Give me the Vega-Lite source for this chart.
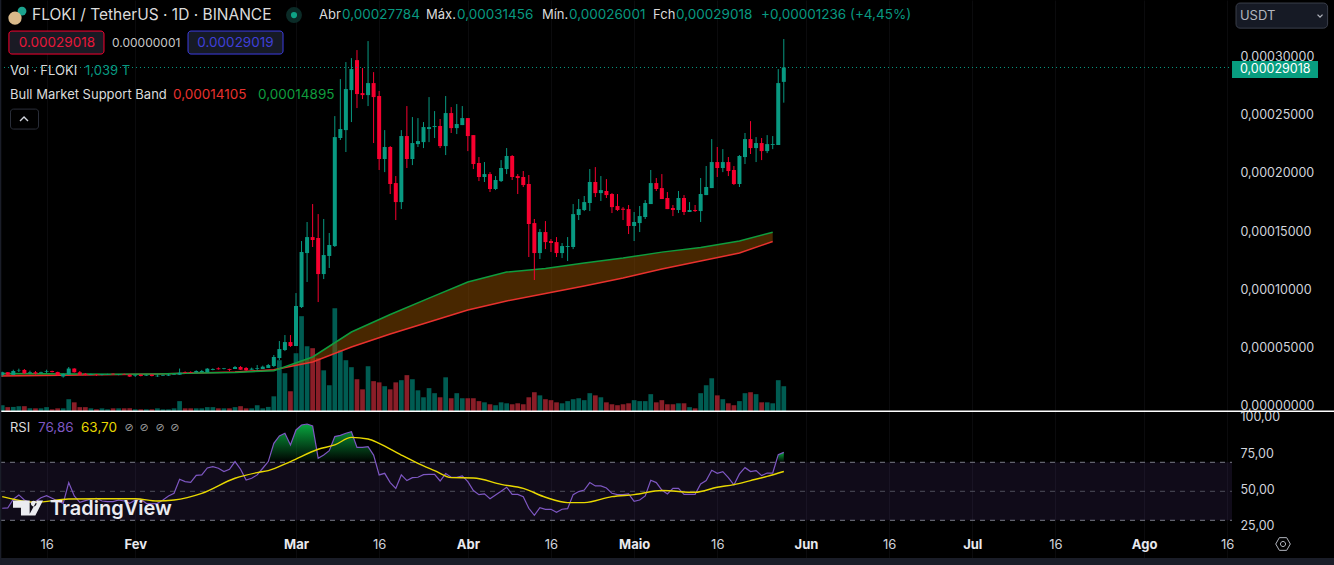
{"$schema":"https://vega.github.io/schema/vega-lite/v6.json","width":1334,"height":565,"padding":0,"autosize":{"type":"none"},"background":"#000000","config":{"view":{"stroke":null},"font":"Inter"},
"datasets":{
"candles":[
{"date":"2024-01-08","open":26.6,"high":29.4,"low":25,"close":28.9,"volume":0.25,"rsi":38.3},
{"date":"2024-01-09","open":28.9,"high":29.1,"low":26.6,"close":26.8,"volume":0.17,"rsi":38.5},
{"date":"2024-01-10","open":26.6,"high":31.1,"low":26.6,"close":30,"volume":0.18,"rsi":44.5},
{"date":"2024-01-11","open":30,"high":32,"low":29.1,"close":30.3,"volume":0.21,"rsi":47.5},
{"date":"2024-01-12","open":30.9,"high":31.7,"low":27.4,"close":28,"volume":0.21,"rsi":44},
{"date":"2024-01-13","open":28.3,"high":30.3,"low":27.2,"close":28.9,"volume":0.12,"rsi":42.4},
{"date":"2024-01-14","open":28.9,"high":30,"low":27,"close":27.7,"volume":0.12,"rsi":42.9},
{"date":"2024-01-15","open":28.3,"high":29.4,"low":27.7,"close":28.9,"volume":0.12,"rsi":45.6},
{"date":"2024-01-16","open":29.4,"high":31.1,"low":28.3,"close":30,"volume":0.17,"rsi":47},
{"date":"2024-01-17","open":30,"high":30.3,"low":28.8,"close":29.1,"volume":0.08,"rsi":45.2},
{"date":"2024-01-18","open":29.1,"high":29.4,"low":26.2,"close":26.6,"volume":0.12,"rsi":43.3},
{"date":"2024-01-19","open":25.2,"high":28,"low":24.3,"close":27.4,"volume":0.12,"rsi":41.7},
{"date":"2024-01-20","open":27,"high":33.4,"low":26.6,"close":32.1,"volume":0.5,"rsi":56},
{"date":"2024-01-21","open":32.1,"high":32.4,"low":28.6,"close":28.9,"volume":0.37,"rsi":46.8},
{"date":"2024-01-22","open":28.9,"high":30,"low":26.6,"close":26.8,"volume":0.17,"rsi":42.4},
{"date":"2024-01-23","open":27.7,"high":28.3,"low":26.2,"close":26.6,"volume":0.17,"rsi":43.6},
{"date":"2024-01-24","open":26.9,"high":27.7,"low":26.6,"close":27.4,"volume":0.12,"rsi":44.7},
{"date":"2024-01-25","open":27.1,"high":27.4,"low":25.7,"close":26.6,"volume":0.08,"rsi":45.2},
{"date":"2024-01-26","open":26.6,"high":27.4,"low":26.2,"close":27.1,"volume":0.12,"rsi":43.3},
{"date":"2024-01-27","open":27,"high":27.6,"low":26.8,"close":27.4,"volume":0.08,"rsi":42.9},
{"date":"2024-01-28","open":27.7,"high":28,"low":26.8,"close":27.1,"volume":0.12,"rsi":42.9},
{"date":"2024-01-29","open":26.6,"high":27.1,"low":26.3,"close":26.9,"volume":0.12,"rsi":44},
{"date":"2024-01-30","open":27.4,"high":27.7,"low":26.6,"close":26.9,"volume":0.12,"rsi":43.3},
{"date":"2024-01-31","open":26.9,"high":27.1,"low":24.9,"close":25.2,"volume":0.12,"rsi":41.7},
{"date":"2024-02-01","open":26,"high":27.1,"low":24.9,"close":26.6,"volume":0.08,"rsi":44},
{"date":"2024-02-02","open":26.9,"high":27,"low":25.4,"close":25.7,"volume":0.08,"rsi":44.5},
{"date":"2024-02-03","open":26,"high":26.9,"low":25.7,"close":26.6,"volume":0.08,"rsi":41.7},
{"date":"2024-02-04","open":26.9,"high":27,"low":25.4,"close":25.7,"volume":0.08,"rsi":41.3},
{"date":"2024-02-05","open":25.4,"high":27.1,"low":24.9,"close":26,"volume":0.12,"rsi":41.7},
{"date":"2024-02-06","open":26,"high":26.9,"low":25.7,"close":26.6,"volume":0.08,"rsi":44},
{"date":"2024-02-07","open":26,"high":27.4,"low":25.7,"close":26.9,"volume":0.08,"rsi":46.8},
{"date":"2024-02-08","open":26.9,"high":27.7,"low":26.6,"close":27.4,"volume":0.12,"rsi":48.6},
{"date":"2024-02-09","open":26.8,"high":32.1,"low":26.6,"close":28.5,"volume":0.42,"rsi":58.3},
{"date":"2024-02-10","open":28.9,"high":29.7,"low":28,"close":28.3,"volume":0.12,"rsi":56.7},
{"date":"2024-02-11","open":29.1,"high":29.7,"low":28.3,"close":28.5,"volume":0.12,"rsi":56.2},
{"date":"2024-02-12","open":28.9,"high":30.6,"low":28.6,"close":30,"volume":0.12,"rsi":61},
{"date":"2024-02-13","open":29.1,"high":30.9,"low":28.9,"close":30,"volume":0.12,"rsi":61.3},
{"date":"2024-02-14","open":28.9,"high":32.5,"low":28.9,"close":32,"volume":0.17,"rsi":66.1},
{"date":"2024-02-15","open":30.9,"high":32.3,"low":30.6,"close":31.7,"volume":0.17,"rsi":67},
{"date":"2024-02-16","open":32.3,"high":33.1,"low":31.1,"close":31.5,"volume":0.12,"rsi":65.9},
{"date":"2024-02-17","open":31.7,"high":32.6,"low":31.4,"close":32.3,"volume":0.12,"rsi":63.6},
{"date":"2024-02-18","open":31.7,"high":32,"low":29.9,"close":30.9,"volume":0.12,"rsi":65.2},
{"date":"2024-02-19","open":31.7,"high":34.3,"low":31.7,"close":33.4,"volume":0.17,"rsi":70.5},
{"date":"2024-02-20","open":33.4,"high":34.3,"low":30.9,"close":31.1,"volume":0.21,"rsi":65.2},
{"date":"2024-02-21","open":32.6,"high":33.4,"low":30,"close":30.6,"volume":0.12,"rsi":57.8},
{"date":"2024-02-22","open":31.1,"high":32.9,"low":30.9,"close":32,"volume":0.12,"rsi":59},
{"date":"2024-02-23","open":31.7,"high":35.1,"low":30.6,"close":32.3,"volume":0.25,"rsi":61.3},
{"date":"2024-02-24","open":31.7,"high":34.6,"low":31.7,"close":33.7,"volume":0.12,"rsi":65.9},
{"date":"2024-02-25","open":32.6,"high":36,"low":32.6,"close":35.1,"volume":0.18,"rsi":70.5},
{"date":"2024-02-26","open":34.3,"high":43.7,"low":33.4,"close":42,"volume":0.62,"rsi":83.1},
{"date":"2024-02-27","open":41.1,"high":55.7,"low":39.4,"close":48.8,"volume":2.12,"rsi":88.2},
{"date":"2024-02-28","open":48,"high":60.8,"low":47.1,"close":54.8,"volume":1.58,"rsi":90},
{"date":"2024-02-29","open":54.8,"high":60.8,"low":50.6,"close":51.4,"volume":0.83,"rsi":82},
{"date":"2024-03-01","open":51.4,"high":96.8,"low":51.4,"close":85.7,"volume":2.41,"rsi":92.3},
{"date":"2024-03-02","open":84.8,"high":141.4,"low":84,"close":132,"volume":3.95,"rsi":95.7},
{"date":"2024-03-03","open":131.1,"high":157.7,"low":106.3,"close":144.8,"volume":2.7,"rsi":96.4},
{"date":"2024-03-04","open":144.8,"high":173.1,"low":136.3,"close":142.3,"volume":2.62,"rsi":95},
{"date":"2024-03-05","open":144,"high":164.5,"low":89.1,"close":113.1,"volume":2.2,"rsi":72.8},
{"date":"2024-03-06","open":113.1,"high":160.3,"low":108.8,"close":129.4,"volume":1.7,"rsi":75},
{"date":"2024-03-07","open":128.6,"high":148.3,"low":118.3,"close":138,"volume":1.08,"rsi":78},
{"date":"2024-03-08","open":137.1,"high":248.5,"low":136.3,"close":230.5,"volume":4.28,"rsi":87.7},
{"date":"2024-03-09","open":229.7,"high":280.2,"low":228,"close":237.4,"volume":2.54,"rsi":88.6},
{"date":"2024-03-10","open":236.5,"high":294.8,"low":217.7,"close":271.7,"volume":2.12,"rsi":90},
{"date":"2024-03-11","open":270.8,"high":298.2,"low":243.4,"close":288.8,"volume":1.83,"rsi":91.1},
{"date":"2024-03-12","open":296.5,"high":305.1,"low":255.4,"close":267.4,"volume":1.33,"rsi":80.3},
{"date":"2024-03-13","open":268.2,"high":289.7,"low":263.1,"close":266.5,"volume":0.91,"rsi":80.3},
{"date":"2024-03-14","open":266.5,"high":312.8,"low":257.1,"close":276.8,"volume":1.87,"rsi":80.8},
{"date":"2024-03-15","open":276.8,"high":286.2,"low":225.4,"close":264.8,"volume":1.25,"rsi":75},
{"date":"2024-03-16","open":265.7,"high":270,"low":202.3,"close":211.7,"volume":1.2,"rsi":61.3},
{"date":"2024-03-17","open":211.7,"high":236.5,"low":200.5,"close":222,"volume":1.04,"rsi":62.4},
{"date":"2024-03-18","open":222,"high":222.8,"low":181.7,"close":190.3,"volume":0.91,"rsi":56},
{"date":"2024-03-19","open":191.1,"high":197.1,"low":159.4,"close":174.8,"volume":1.2,"rsi":52},
{"date":"2024-03-20","open":174.8,"high":236.5,"low":168.8,"close":231.4,"volume":1.29,"rsi":61.3},
{"date":"2024-03-21","open":231.4,"high":257.1,"low":204,"close":211.7,"volume":1.5,"rsi":57.4},
{"date":"2024-03-22","open":211.7,"high":247.7,"low":206.5,"close":225.4,"volume":1.33,"rsi":59.4},
{"date":"2024-03-23","open":224.5,"high":246.8,"low":222,"close":227.1,"volume":0.87,"rsi":59.7},
{"date":"2024-03-24","open":226.2,"high":243.4,"low":221.1,"close":239.1,"volume":0.58,"rsi":61.5},
{"date":"2024-03-25","open":237.4,"high":264.8,"low":226.2,"close":239.1,"volume":0.96,"rsi":61.7},
{"date":"2024-03-26","open":239.1,"high":252.8,"low":229.7,"close":240,"volume":0.75,"rsi":61.7},
{"date":"2024-03-27","open":240,"high":246,"low":221.1,"close":222.8,"volume":0.58,"rsi":57.1},
{"date":"2024-03-28","open":222.8,"high":265.7,"low":215.1,"close":251.1,"volume":1.41,"rsi":62.2},
{"date":"2024-03-29","open":251.1,"high":256.2,"low":234,"close":238.2,"volume":0.54,"rsi":59.7},
{"date":"2024-03-30","open":238.2,"high":258.8,"low":233.1,"close":241.7,"volume":0.75,"rsi":59.7},
{"date":"2024-03-31","open":240.8,"high":257.1,"low":240.8,"close":246.8,"volume":0.54,"rsi":60.6},
{"date":"2024-04-01","open":246.8,"high":246.8,"low":218.5,"close":231.4,"volume":0.54,"rsi":56.7},
{"date":"2024-04-02","open":232.2,"high":232.2,"low":203.1,"close":207.4,"volume":0.54,"rsi":50.5},
{"date":"2024-04-03","open":208.3,"high":213.4,"low":192.8,"close":196.3,"volume":0.42,"rsi":47.7},
{"date":"2024-04-04","open":196.3,"high":209.1,"low":192,"close":198.8,"volume":0.37,"rsi":48.2},
{"date":"2024-04-05","open":198.8,"high":200.5,"low":183.4,"close":186,"volume":0.29,"rsi":44.9},
{"date":"2024-04-06","open":186,"high":197.1,"low":185.1,"close":193.7,"volume":0.25,"rsi":47.5},
{"date":"2024-04-07","open":192.8,"high":210.8,"low":192,"close":204,"volume":0.37,"rsi":50},
{"date":"2024-04-08","open":203.1,"high":221.1,"low":198.8,"close":214.3,"volume":0.33,"rsi":52.8},
{"date":"2024-04-09","open":214.3,"high":215.1,"low":193.7,"close":196.3,"volume":0.29,"rsi":47.9},
{"date":"2024-04-10","open":197.1,"high":198.8,"low":181.7,"close":195.4,"volume":0.33,"rsi":47.9},
{"date":"2024-04-11","open":196.3,"high":201.4,"low":187.7,"close":189.4,"volume":0.29,"rsi":46.3},
{"date":"2024-04-12","open":190.3,"high":198,"low":127.7,"close":156,"volume":0.58,"rsi":38.3},
{"date":"2024-04-13","open":156.8,"high":160.3,"low":108,"close":131.1,"volume":0.79,"rsi":33.4},
{"date":"2024-04-14","open":131.1,"high":151.7,"low":126,"close":149.1,"volume":0.66,"rsi":38.7},
{"date":"2024-04-15","open":149.1,"high":158.5,"low":134.5,"close":140.5,"volume":0.5,"rsi":37.6},
{"date":"2024-04-16","open":141.4,"high":143.1,"low":132,"close":139.7,"volume":0.46,"rsi":37.6},
{"date":"2024-04-17","open":140.5,"high":144.8,"low":127.7,"close":131.1,"volume":0.37,"rsi":35.5},
{"date":"2024-04-18","open":131.1,"high":139.7,"low":126.8,"close":137.1,"volume":0.33,"rsi":37.6},
{"date":"2024-04-19","open":136.3,"high":144.8,"low":124.3,"close":137.1,"volume":0.42,"rsi":38},
{"date":"2024-04-20","open":136.3,"high":173.1,"low":134.5,"close":164.5,"volume":0.5,"rsi":47.7},
{"date":"2024-04-21","open":163.7,"high":177.4,"low":159.4,"close":168.8,"volume":0.54,"rsi":49.8},
{"date":"2024-04-22","open":168,"high":180,"low":167.1,"close":174.8,"volume":0.46,"rsi":50.9},
{"date":"2024-04-23","open":174,"high":203.1,"low":167.1,"close":192,"volume":0.75,"rsi":56},
{"date":"2024-04-24","open":192,"high":204.8,"low":179.1,"close":182.5,"volume":0.66,"rsi":53.7},
{"date":"2024-04-25","open":182.5,"high":197.1,"low":175.7,"close":185.1,"volume":0.58,"rsi":53.7},
{"date":"2024-04-26","open":184.3,"high":194.5,"low":178.3,"close":180.8,"volume":0.37,"rsi":52.3},
{"date":"2024-04-27","open":181.7,"high":182.5,"low":165.4,"close":170.5,"volume":0.29,"rsi":48.6},
{"date":"2024-04-28","open":171.4,"high":181.7,"low":167.1,"close":168,"volume":0.25,"rsi":47.7},
{"date":"2024-04-29","open":169.1,"high":170.5,"low":159.4,"close":168.2,"volume":0.29,"rsi":47.7},
{"date":"2024-04-30","open":168.8,"high":172.3,"low":147.4,"close":154.3,"volume":0.33,"rsi":48.2},
{"date":"2024-05-01","open":154.3,"high":166.3,"low":141.4,"close":157.7,"volume":0.46,"rsi":43.1},
{"date":"2024-05-02","open":156.8,"high":171.4,"low":149.1,"close":162.8,"volume":0.42,"rsi":44},
{"date":"2024-05-03","open":162,"high":176.5,"low":160.3,"close":174,"volume":0.42,"rsi":46.8},
{"date":"2024-05-04","open":173.1,"high":202.3,"low":173.1,"close":191.1,"volume":0.71,"rsi":57.6},
{"date":"2024-05-05","open":191.1,"high":195.4,"low":184.3,"close":186,"volume":0.37,"rsi":56},
{"date":"2024-05-06","open":186.8,"high":198.8,"low":177.4,"close":177.4,"volume":0.46,"rsi":50.9},
{"date":"2024-05-07","open":178.3,"high":183.4,"low":168.8,"close":168.8,"volume":0.29,"rsi":48.2},
{"date":"2024-05-08","open":169.7,"high":172.3,"low":162.8,"close":168,"volume":0.29,"rsi":52.1},
{"date":"2024-05-09","open":168,"high":184.3,"low":165.4,"close":178.3,"volume":0.33,"rsi":52},
{"date":"2024-05-10","open":178.3,"high":180.8,"low":163.7,"close":166.3,"volume":0.33,"rsi":47.9},
{"date":"2024-05-11","open":166.3,"high":174.8,"low":166.3,"close":168,"volume":0.17,"rsi":47.9},
{"date":"2024-05-12","open":168,"high":172.3,"low":166.3,"close":167.1,"volume":0.12,"rsi":47.9},
{"date":"2024-05-13","open":167.1,"high":195.4,"low":157.7,"close":181.7,"volume":0.75,"rsi":55},
{"date":"2024-05-14","open":180.8,"high":205.7,"low":180.8,"close":187.7,"volume":1.08,"rsi":57.4},
{"date":"2024-05-15","open":186.8,"high":228.8,"low":186.8,"close":209.1,"volume":1.37,"rsi":64.5},
{"date":"2024-05-16","open":209.1,"high":222,"low":196.3,"close":204,"volume":0.66,"rsi":62.4},
{"date":"2024-05-17","open":204,"high":220.2,"low":200.5,"close":209.1,"volume":0.5,"rsi":63.6},
{"date":"2024-05-18","open":209.1,"high":213.4,"low":197.1,"close":201.4,"volume":0.33,"rsi":59.4},
{"date":"2024-05-19","open":202.3,"high":205.7,"low":189.4,"close":190.3,"volume":0.25,"rsi":54.4},
{"date":"2024-05-20","open":190.3,"high":215.1,"low":187.7,"close":214.3,"volume":0.42,"rsi":62},
{"date":"2024-05-21","open":213.4,"high":234,"low":207.4,"close":228.8,"volume":0.75,"rsi":66.3},
{"date":"2024-05-22","open":228.8,"high":244.2,"low":216,"close":221.1,"volume":0.79,"rsi":63.6},
{"date":"2024-05-23","open":221.1,"high":230.5,"low":209.1,"close":225.4,"volume":0.71,"rsi":64.3},
{"date":"2024-05-24","open":225.4,"high":229.7,"low":210.8,"close":218.5,"volume":0.37,"rsi":60.8},
{"date":"2024-05-25","open":218.5,"high":232.2,"low":216.8,"close":224.5,"volume":0.37,"rsi":62.6},
{"date":"2024-05-26","open":223.7,"high":231.4,"low":220.2,"close":224.5,"volume":0.33,"rsi":62.6},
{"date":"2024-05-27","open":223.7,"high":288.8,"low":223.7,"close":276.8,"volume":1.29,"rsi":75.3},
{"date":"2024-05-28","open":277.84,"high":314.56,"low":260.01,"close":290.18,"volume":1.039,"rsi":76.86}
],
"band":[
{"date":"2024-01-07","upper":27.9,"lower":25.6},
{"date":"2024-01-15","upper":27.7,"lower":26.1},
{"date":"2024-01-22","upper":27.4,"lower":26.6},
{"date":"2024-01-29","upper":27.2,"lower":27},
{"date":"2024-02-05","upper":27.4,"lower":27.4},
{"date":"2024-02-12","upper":28.3,"lower":28.3},
{"date":"2024-02-19","upper":28.7,"lower":29.1},
{"date":"2024-02-26","upper":30.3,"lower":31.1},
{"date":"2024-03-04","upper":42,"lower":37.7},
{"date":"2024-03-11","upper":63.4,"lower":50.6},
{"date":"2024-03-18","upper":78.4,"lower":61.7},
{"date":"2024-03-25","upper":92.5,"lower":72},
{"date":"2024-04-01","upper":106.3,"lower":82.3},
{"date":"2024-04-08","upper":114.8,"lower":90},
{"date":"2024-04-15","upper":117.8,"lower":96.4},
{"date":"2024-04-22","upper":122.5,"lower":102.8},
{"date":"2024-04-29","upper":126.8,"lower":109.7},
{"date":"2024-05-06","upper":131.9,"lower":117.4},
{"date":"2024-05-13","upper":135.8,"lower":124.3},
{"date":"2024-05-20","upper":141.4,"lower":131.1},
{"date":"2024-05-26","upper":148.95,"lower":141.05}
],
"rsiMa":[
{"date":"2024-01-08","ma":46.3},{"date":"2024-01-14","ma":42.4},{"date":"2024-01-20","ma":44.7},{"date":"2024-01-26","ma":44.9},{"date":"2024-02-01","ma":44.9},{"date":"2024-02-05","ma":43.3},{"date":"2024-02-08","ma":44},{"date":"2024-02-13","ma":48.6},{"date":"2024-02-19","ma":59},{"date":"2024-02-23","ma":62.9},{"date":"2024-02-25","ma":64.3},{"date":"2024-02-29","ma":70.5},{"date":"2024-03-05","ma":79},{"date":"2024-03-08","ma":82},{"date":"2024-03-11","ma":87.2},{"date":"2024-03-14","ma":86.1},{"date":"2024-03-16","ma":83.1},{"date":"2024-03-20","ma":75},{"date":"2024-03-23","ma":69.3},{"date":"2024-03-26","ma":64.3},{"date":"2024-03-29","ma":59.4},{"date":"2024-04-02","ma":59.2},{"date":"2024-04-07","ma":54.8},{"date":"2024-04-11","ma":52},{"date":"2024-04-15","ma":45.9},{"date":"2024-04-19","ma":42.2},{"date":"2024-04-22","ma":42.2},{"date":"2024-04-27","ma":46.3},{"date":"2024-05-01","ma":47.7},{"date":"2024-05-06","ma":50.5},{"date":"2024-05-12","ma":49.3},{"date":"2024-05-16","ma":52.8},{"date":"2024-05-19","ma":54.6},{"date":"2024-05-22","ma":57.4},{"date":"2024-05-25","ma":60.3},{"date":"2024-05-28","ma":63.7}
],
"rsiHigh":[
{"date":"2024-02-25","rsi":70.5,"run":1},{"date":"2024-02-26","rsi":83.1,"run":1},{"date":"2024-02-27","rsi":88.2,"run":1},{"date":"2024-02-28","rsi":90,"run":1},{"date":"2024-02-29","rsi":82,"run":1},{"date":"2024-03-01","rsi":92.3,"run":1},{"date":"2024-03-02","rsi":95.7,"run":1},{"date":"2024-03-03","rsi":96.4,"run":1},{"date":"2024-03-04","rsi":95,"run":1},{"date":"2024-03-05","rsi":72.8,"run":1},{"date":"2024-03-06","rsi":75,"run":1},{"date":"2024-03-07","rsi":78,"run":1},{"date":"2024-03-08","rsi":87.7,"run":1},{"date":"2024-03-09","rsi":88.6,"run":1},{"date":"2024-03-10","rsi":90,"run":1},{"date":"2024-03-11","rsi":91.1,"run":1},{"date":"2024-03-12","rsi":80.3,"run":1},{"date":"2024-03-13","rsi":80.3,"run":1},{"date":"2024-03-14","rsi":80.8,"run":1},{"date":"2024-03-15","rsi":75,"run":1},
{"date":"2024-05-27","rsi":75.3,"run":2},{"date":"2024-05-28","rsi":76.86,"run":2}
]
},
"resolve":{"scale":{"y":"independent"},"axis":{"x":"independent","y":"independent"}},
"layer":[
{"data":{"name":"candles"},"mark":{"type":"bar","size":4.7},
 "encoding":{
  "x":{"field":"date","type":"temporal","scale":{"type":"utc","padding":0,"domain":[{"year":2024,"month":1,"date":7,"hours":14,"minutes":24,"utc":true},{"year":2024,"month":9,"date":4,"hours":6,"minutes":14,"utc":true}]},
   "axis":{"title":null,"orient":"bottom","offset":-21,"domain":false,"ticks":false,"labelPadding":0,"labelBaseline":"middle","labelFont":"Inter","labelFontSize":13,"labelColor":{"condition":{"test":"utcFormat(datum.value,'%d')=='01'","value":"#e8e9ee"},"value":"#d1d4dc"},"labelFontWeight":{"condition":{"test":"utcFormat(datum.value,'%d')=='01'","value":"bold"},"value":"normal"},"labelOverlap":false,"labelFlush":false,"labelBound":false,"grid":true,"gridColor":"#0b0b0d","gridWidth":1,
    "values":[{"year":2024,"month":1,"date":16,"utc":true},{"year":2024,"month":2,"date":1,"utc":true},{"year":2024,"month":3,"date":1,"utc":true},{"year":2024,"month":3,"date":16,"utc":true},{"year":2024,"month":4,"date":1,"utc":true},{"year":2024,"month":4,"date":16,"utc":true},{"year":2024,"month":5,"date":1,"utc":true},{"year":2024,"month":5,"date":16,"utc":true},{"year":2024,"month":6,"date":1,"utc":true},{"year":2024,"month":6,"date":16,"utc":true},{"year":2024,"month":7,"date":1,"utc":true},{"year":2024,"month":7,"date":16,"utc":true},{"year":2024,"month":8,"date":1,"utc":true},{"year":2024,"month":8,"date":16,"utc":true}],
    "labelExpr":"utcFormat(datum.value,'%d')=='16'?'16':({'02':'Fev','03':'Mar','04':'Abr','05':'Maio','06':'Jun','07':'Jul','08':'Ago'})[utcFormat(datum.value,'%m')]"}},
  "y":{"field":"volume","type":"quantitative","scale":{"domain":[-6.39,17.09],"zero":false,"nice":false},"axis":null},
  "color":{"condition":{"test":"datum.close>=datum.open","value":"#005c52"},"value":"#8a1e28"}}},
{"resolve":{"axis":{"x":"independent","y":"independent"}},"layer":[
 {"data":{"values":[{}]},"resolve":{"axis":{"x":"independent","y":"independent"}},"layer":[
  {"mark":{"type":"rect","color":"#7e57c2","opacity":0.13},"encoding":{"x":{"datum":{"year":2024,"month":1,"date":7,"hours":14,"minutes":24,"utc":true},"type":"temporal","axis":null},"x2":{"datum":{"year":2024,"month":8,"date":16,"hours":20,"minutes":40,"utc":true}},
   "y":{"datum":70,"type":"quantitative","scale":{"domain":[-0.83,388.83],"zero":false,"nice":false},
    "axis":{"title":null,"orient":"right","offset":-94,"domain":false,"ticks":false,"grid":false,"labelPadding":0,"labelAlign":"left","labelBaseline":"middle","labelFont":"Inter","labelFontSize":12.5,"labelColor":"#d1d4dc","labelOffset":-2,"labelOverlap":false,"labelBound":false,"labelFlush":false,"values":[25,50,75,100],"labelExpr":"replace(format(datum.value,'.2f'),'.',',')"}},
   "y2":{"datum":30}}},
  {"mark":{"type":"rule","color":"#787b86","strokeDash":[5,5],"strokeWidth":1},"encoding":{"x":{"datum":{"year":2024,"month":1,"date":7,"hours":14,"minutes":24,"utc":true},"type":"temporal","axis":null},"x2":{"datum":{"year":2024,"month":8,"date":16,"hours":20,"minutes":40,"utc":true}},"y":{"datum":70,"type":"quantitative","axis":null}}},
  {"mark":{"type":"rule","color":"#787b86","strokeDash":[5,5],"strokeWidth":1,"opacity":0.6},"encoding":{"x":{"datum":{"year":2024,"month":1,"date":7,"hours":14,"minutes":24,"utc":true},"type":"temporal","axis":null},"x2":{"datum":{"year":2024,"month":8,"date":16,"hours":20,"minutes":40,"utc":true}},"y":{"datum":50,"type":"quantitative","axis":null}}},
  {"mark":{"type":"rule","color":"#787b86","strokeDash":[5,5],"strokeWidth":1},"encoding":{"x":{"datum":{"year":2024,"month":1,"date":7,"hours":14,"minutes":24,"utc":true},"type":"temporal","axis":null},"x2":{"datum":{"year":2024,"month":8,"date":16,"hours":20,"minutes":40,"utc":true}},"y":{"datum":30,"type":"quantitative","axis":null}}}
 ]},
 {"data":{"name":"rsiHigh"},"mark":{"type":"area","line":false,"color":{"gradient":"linear","x1":0,"x2":0,"y1":0,"y2":1,"stops":[{"offset":0,"color":"#08a63f"},{"offset":1,"color":"#08a63f00"}]}},
  "encoding":{"x":{"field":"date","type":"temporal","scale":{"type":"utc"},"axis":null},"y":{"field":"rsi","type":"quantitative","axis":null},"y2":{"datum":70},"detail":{"field":"run"}}},
 {"data":{"name":"candles"},"mark":{"type":"line","color":"#7e57c2","strokeWidth":1.2},"encoding":{"x":{"field":"date","type":"temporal","scale":{"type":"utc"},"axis":null},"y":{"field":"rsi","type":"quantitative","axis":null}}},
 {"data":{"name":"rsiMa"},"mark":{"type":"line","color":"#e8d800","strokeWidth":1.4,"interpolate":"monotone"},"encoding":{"x":{"field":"date","type":"temporal","scale":{"type":"utc"},"axis":null},"y":{"field":"ma","type":"quantitative","axis":null}}}
]},
{"resolve":{"axis":{"x":"independent","y":"independent"}},"layer":[
 {"data":{"name":"band"},"resolve":{"axis":{"x":"independent","y":"independent"}},"encoding":{"x":{"field":"date","type":"temporal","scale":{"type":"utc"},"axis":null}},"layer":[
  {"mark":{"type":"area","color":"#8a4b00","opacity":0.52},"encoding":{"y":{"field":"upper","type":"quantitative","scale":{"domain":[-136.3,348.02],"zero":false,"nice":false},
    "axis":{"title":null,"orient":"right","offset":-94,"domain":false,"ticks":false,"grid":false,"labelPadding":0,"labelAlign":"left","labelBaseline":"middle","labelFont":"Inter","labelFontSize":12.5,"labelColor":"#d1d4dc","labelOverlap":false,"labelBound":false,"labelFlush":false,"values":[0,50,100,150,200,250,300],"labelExpr":"replace(format(datum.value/1000000,'.8f'),'.',',')"}},"y2":{"field":"lower"}}},
  {"mark":{"type":"line","color":"#e8312e","strokeWidth":1.5},"encoding":{"y":{"field":"lower","type":"quantitative","axis":null}}},
  {"mark":{"type":"line","color":"#0f9d3e","strokeWidth":1.5},"encoding":{"y":{"field":"upper","type":"quantitative","axis":null}}}
 ]},
 {"data":{"name":"candles"},"resolve":{"axis":{"x":"independent","y":"independent"}},"encoding":{"x":{"field":"date","type":"temporal","scale":{"type":"utc"},"axis":null},"color":{"condition":{"test":"datum.close>=datum.open","value":"#089981"},"value":"#f7002f"}},"layer":[
  {"mark":{"type":"rule","strokeWidth":1},"encoding":{"y":{"field":"high","type":"quantitative","axis":null},"y2":{"field":"low"}}},
  {"mark":{"type":"bar","size":4,"minBandSize":1},"encoding":{"y":{"field":"open","type":"quantitative","axis":null},"y2":{"field":"close"}}}
 ]},
 {"data":{"values":[{}]},"resolve":{"axis":{"x":"independent","y":"independent"}},"layer":[
  {"mark":{"type":"rule","color":"#089981","strokeDash":[1,3],"strokeWidth":1},"encoding":{"x":{"datum":{"year":2024,"month":1,"date":7,"hours":14,"minutes":24,"utc":true},"type":"temporal","axis":null},"x2":{"datum":{"year":2024,"month":8,"date":16,"hours":20,"minutes":40,"utc":true}},"y":{"datum":290.18,"type":"quantitative","axis":null}}},
  {"mark":{"type":"rule","color":"#ffffff","strokeWidth":1.5},"encoding":{"y":{"datum":-4.6,"type":"quantitative","axis":null}}},
  {"mark":{"type":"rect","color":"#1a1d28"},"encoding":{"y":{"datum":-130.3,"type":"quantitative","axis":null},"y2":{"datum":-136.3}}},
  {"mark":{"type":"rect","color":"#1a1d28"},"encoding":{"x":{"datum":{"year":2024,"month":1,"date":7,"hours":14,"minutes":24,"utc":true},"type":"temporal","axis":null},"x2":{"datum":{"year":2024,"month":1,"date":7,"hours":20,"utc":true}}}},
  {"mark":{"type":"rect","color":"#089e80"},"encoding":{"x":{"datum":{"year":2024,"month":8,"date":16,"hours":20,"minutes":40,"utc":true},"type":"temporal","axis":null},"x2":{"datum":{"year":2024,"month":9,"date":1,"hours":9,"utc":true}},"y":{"datum":295.7,"type":"quantitative","axis":null},"y2":{"datum":281.1}}},
  {"mark":{"type":"text","align":"left","baseline":"middle","fontSize":12.5,"color":"#ffffff"},"encoding":{"x":{"datum":{"year":2024,"month":8,"date":18,"hours":7,"utc":true},"type":"temporal","axis":null},"y":{"datum":288.8,"type":"quantitative","axis":null},"text":{"value":"0,00029018"}}},
  {"mark":{"type":"rect","fill":"#161a25","stroke":"#3a3e4a","strokeWidth":1,"cornerRadius":4},"encoding":{"x":{"datum":{"year":2024,"month":8,"date":17,"hours":14,"utc":true},"type":"temporal","axis":null},"x2":{"datum":{"year":2024,"month":9,"date":3,"hours":2,"minutes":30,"utc":true}},"y":{"datum":345.4,"type":"quantitative","axis":null},"y2":{"datum":323.9}}},
  {"mark":{"type":"text","align":"left","baseline":"middle","fontSize":13,"color":"#b2b5be"},"encoding":{"x":{"datum":{"year":2024,"month":8,"date":18,"hours":7,"utc":true},"type":"temporal","axis":null},"y":{"datum":334.7,"type":"quantitative","axis":null},"text":{"value":"USDT"}}},
  {"mark":{"type":"point","shape":"M-1 -0.5L0 0.5L1 -0.5","size":25,"filled":false,"opacity":1,"stroke":"#b2b5be","strokeWidth":1.3},"encoding":{"x":{"datum":{"year":2024,"month":9,"date":1,"hours":17,"minutes":45,"utc":true},"type":"temporal","axis":null},"y":{"datum":334.4,"type":"quantitative","axis":null}}},
  {"mark":{"type":"point","shape":"M-1 0L-0.5 -0.87L0.5 -0.87L1 0L0.5 0.87L-0.5 0.87ZM0.35 0a0.35 0.35 0 1 0 -0.7 0a0.35 0.35 0 1 0 0.7 0","size":213,"filled":false,"opacity":1,"stroke":"#b2b5be","strokeWidth":1},"encoding":{"x":{"datum":{"year":2024,"month":8,"date":26,"hours":1,"minutes":30,"utc":true},"type":"temporal","axis":null},"y":{"datum":-118.3,"type":"quantitative","axis":null}}},
  {"mark":{"type":"point","shape":"circle","size":78,"filled":true,"opacity":1,"color":"#1ba38e"},"encoding":{"x":{"datum":{"year":2024,"month":1,"date":11,"hours":13,"minutes":40,"utc":true},"type":"temporal","axis":null},"y":{"datum":338.5,"type":"quantitative","axis":null}}},
  {"mark":{"type":"point","shape":"circle","size":177,"filled":true,"opacity":1,"color":"#d9b98a"},"encoding":{"x":{"datum":{"year":2024,"month":1,"date":10,"hours":7,"minutes":20,"utc":true},"type":"temporal","axis":null},"y":{"datum":332.5,"type":"quantitative","axis":null}}},
  {"mark":{"type":"text","align":"left","baseline":"middle","fontSize":15.5,"color":"#dbdbdb"},"encoding":{"x":{"datum":{"year":2024,"month":1,"date":13,"hours":9,"utc":true},"type":"temporal","axis":null},"y":{"datum":335.1,"type":"quantitative","axis":null},"text":{"value":"FLOKI / TetherUS · 1D · BINANCE"}}},
  {"mark":{"type":"point","shape":"circle","size":254,"filled":true,"opacity":1,"color":"#0b2b27"},"encoding":{"x":{"datum":{"year":2024,"month":2,"date":29,"hours":15,"minutes":20,"utc":true},"type":"temporal","axis":null},"y":{"datum":335.1,"type":"quantitative","axis":null}}},
  {"mark":{"type":"point","shape":"circle","size":38,"filled":true,"opacity":1,"color":"#0fa386"},"encoding":{"x":{"datum":{"year":2024,"month":2,"date":29,"hours":15,"minutes":20,"utc":true},"type":"temporal","axis":null},"y":{"datum":335.1,"type":"quantitative","axis":null}}},
  {"mark":{"type":"text","align":"left","baseline":"middle","fontSize":13,"color":"#dbdbdb"},"encoding":{"x":{"datum":{"year":2024,"month":3,"date":5,"hours":3,"minutes":36,"utc":true},"type":"temporal","axis":null},"y":{"datum":335.1,"type":"quantitative","axis":null},"text":{"value":"Abr"}}},
  {"mark":{"type":"text","align":"left","baseline":"middle","fontSize":13.5,"color":"#089981"},"encoding":{"x":{"datum":{"year":2024,"month":3,"date":9,"hours":7,"utc":true},"type":"temporal","axis":null},"y":{"datum":335.1,"type":"quantitative","axis":null},"text":{"value":"0,00027784"}}},
  {"mark":{"type":"text","align":"left","baseline":"middle","fontSize":13,"color":"#dbdbdb"},"encoding":{"x":{"datum":{"year":2024,"month":3,"date":24,"hours":11,"utc":true},"type":"temporal","axis":null},"y":{"datum":335.1,"type":"quantitative","axis":null},"text":{"value":"Máx."}}},
  {"mark":{"type":"text","align":"left","baseline":"middle","fontSize":13.5,"color":"#089981"},"encoding":{"x":{"datum":{"year":2024,"month":3,"date":30,"hours":1,"utc":true},"type":"temporal","axis":null},"y":{"datum":335.1,"type":"quantitative","axis":null},"text":{"value":"0,00031456"}}},
  {"mark":{"type":"text","align":"left","baseline":"middle","fontSize":13,"color":"#dbdbdb"},"encoding":{"x":{"datum":{"year":2024,"month":4,"date":14,"hours":9,"utc":true},"type":"temporal","axis":null},"y":{"datum":335.1,"type":"quantitative","axis":null},"text":{"value":"Mín."}}},
  {"mark":{"type":"text","align":"left","baseline":"middle","fontSize":13.5,"color":"#089981"},"encoding":{"x":{"datum":{"year":2024,"month":4,"date":19,"hours":6,"utc":true},"type":"temporal","axis":null},"y":{"datum":335.1,"type":"quantitative","axis":null},"text":{"value":"0,00026001"}}},
  {"mark":{"type":"text","align":"left","baseline":"middle","fontSize":13,"color":"#dbdbdb"},"encoding":{"x":{"datum":{"year":2024,"month":5,"date":4,"hours":10,"utc":true},"type":"temporal","axis":null},"y":{"datum":335.1,"type":"quantitative","axis":null},"text":{"value":"Fch"}}},
  {"mark":{"type":"text","align":"left","baseline":"middle","fontSize":13.5,"color":"#089981"},"encoding":{"x":{"datum":{"year":2024,"month":5,"date":8,"hours":13,"minutes":30,"utc":true},"type":"temporal","axis":null},"y":{"datum":335.1,"type":"quantitative","axis":null},"text":{"value":"0,00029018"}}},
  {"mark":{"type":"text","align":"left","baseline":"middle","fontSize":13.5,"color":"#089981"},"encoding":{"x":{"datum":{"year":2024,"month":5,"date":23,"hours":21,"minutes":30,"utc":true},"type":"temporal","axis":null},"y":{"datum":335.1,"type":"quantitative","axis":null},"text":{"value":"+0,00001236 (+4,45%)"}}},
  {"mark":{"type":"rect","fill":"#1a1a24","stroke":"#f7002f","strokeWidth":1,"cornerRadius":3},"encoding":{"x":{"datum":{"year":2024,"month":1,"date":9,"hours":5,"utc":true},"type":"temporal","axis":null},"x2":{"datum":{"year":2024,"month":1,"date":26,"hours":8,"minutes":40,"utc":true}},"y":{"datum":321.4,"type":"quantitative","axis":null},"y2":{"datum":301.7}}},
  {"mark":{"type":"text","align":"center","baseline":"middle","fontSize":13.5,"color":"#e8173a"},"encoding":{"x":{"datum":{"year":2024,"month":1,"date":17,"hours":21,"utc":true},"type":"temporal","axis":null},"y":{"datum":311.1,"type":"quantitative","axis":null},"text":{"value":"0.00029018"}}},
  {"mark":{"type":"text","align":"left","baseline":"middle","fontSize":12,"color":"#c8c8c8"},"encoding":{"x":{"datum":{"year":2024,"month":1,"date":27,"hours":19,"minutes":30,"utc":true},"type":"temporal","axis":null},"y":{"datum":311.1,"type":"quantitative","axis":null},"text":{"value":"0.00000001"}}},
  {"mark":{"type":"rect","fill":"#161a25","stroke":"#3d3de0","strokeWidth":1,"cornerRadius":3},"encoding":{"x":{"datum":{"year":2024,"month":2,"date":10,"hours":12,"minutes":30,"utc":true},"type":"temporal","axis":null},"x2":{"datum":{"year":2024,"month":2,"date":27,"hours":15,"minutes":50,"utc":true}},"y":{"datum":321.4,"type":"quantitative","axis":null},"y2":{"datum":301.7}}},
  {"mark":{"type":"text","align":"center","baseline":"middle","fontSize":13.5,"color":"#3f3fd8"},"encoding":{"x":{"datum":{"year":2024,"month":2,"date":19,"hours":2,"utc":true},"type":"temporal","axis":null},"y":{"datum":311.1,"type":"quantitative","axis":null},"text":{"value":"0.00029019"}}},
  {"mark":{"type":"text","align":"left","baseline":"middle","fontSize":13,"color":"#dbdbdb"},"encoding":{"x":{"datum":{"year":2024,"month":1,"date":9,"hours":9,"minutes":42,"utc":true},"type":"temporal","axis":null},"y":{"datum":287.1,"type":"quantitative","axis":null},"text":{"value":"Vol · FLOKI"}}},
  {"mark":{"type":"text","align":"left","baseline":"middle","fontSize":13,"color":"#089981"},"encoding":{"x":{"datum":{"year":2024,"month":1,"date":22,"hours":22,"minutes":20,"utc":true},"type":"temporal","axis":null},"y":{"datum":287.1,"type":"quantitative","axis":null},"text":{"value":"1,039 T"}}},
  {"mark":{"type":"text","align":"left","baseline":"middle","fontSize":13,"color":"#dbdbdb"},"encoding":{"x":{"datum":{"year":2024,"month":1,"date":9,"hours":9,"minutes":42,"utc":true},"type":"temporal","axis":null},"y":{"datum":266.5,"type":"quantitative","axis":null},"text":{"value":"Bull Market Support Band"}}},
  {"mark":{"type":"text","align":"left","baseline":"middle","fontSize":13.5,"color":"#e8312e"},"encoding":{"x":{"datum":{"year":2024,"month":2,"date":7,"hours":19,"minutes":30,"utc":true},"type":"temporal","axis":null},"y":{"datum":266.5,"type":"quantitative","axis":null},"text":{"value":"0,00014105"}}},
  {"mark":{"type":"text","align":"left","baseline":"middle","fontSize":13.5,"color":"#0f9d3e"},"encoding":{"x":{"datum":{"year":2024,"month":2,"date":23,"hours":3,"minutes":40,"utc":true},"type":"temporal","axis":null},"y":{"datum":266.5,"type":"quantitative","axis":null},"text":{"value":"0,00014895"}}},
  {"mark":{"type":"rect","fill":"#000000","stroke":"#2a2e39","strokeWidth":1,"cornerRadius":3},"encoding":{"x":{"datum":{"year":2024,"month":1,"date":9,"hours":11,"minutes":50,"utc":true},"type":"temporal","axis":null},"x2":{"datum":{"year":2024,"month":1,"date":14,"hours":13,"minutes":10,"utc":true}},"y":{"datum":254.5,"type":"quantitative","axis":null},"y2":{"datum":237.4}}},
  {"mark":{"type":"point","shape":"M-1 0.5L0 -0.5L1 0.5","size":64,"filled":false,"opacity":1,"stroke":"#d1d4dc","strokeWidth":1.4},"encoding":{"x":{"datum":{"year":2024,"month":1,"date":11,"hours":22,"minutes":20,"utc":true},"type":"temporal","axis":null},"y":{"datum":246,"type":"quantitative","axis":null}}},
  {"mark":{"type":"text","align":"left","baseline":"middle","fontSize":13,"color":"#dbdbdb"},"encoding":{"x":{"datum":{"year":2024,"month":1,"date":9,"hours":9,"minutes":42,"utc":true},"type":"temporal","axis":null},"y":{"datum":-18.9,"type":"quantitative","axis":null},"text":{"value":"RSI"}}},
  {"mark":{"type":"text","align":"left","baseline":"middle","fontSize":13.5,"color":"#7e57c2"},"encoding":{"x":{"datum":{"year":2024,"month":1,"date":14,"hours":11,"utc":true},"type":"temporal","axis":null},"y":{"datum":-18.9,"type":"quantitative","axis":null},"text":{"value":"76,86"}}},
  {"mark":{"type":"text","align":"left","baseline":"middle","fontSize":13.5,"color":"#e8d800"},"encoding":{"x":{"datum":{"year":2024,"month":1,"date":22,"hours":5,"utc":true},"type":"temporal","axis":null},"y":{"datum":-18.9,"type":"quantitative","axis":null},"text":{"value":"63,70"}}},
  {"mark":{"type":"text","align":"center","baseline":"middle","fontSize":11,"color":"#a0a0a0","font":"DejaVu Sans"},"encoding":{"x":{"datum":{"year":2024,"month":1,"date":30,"hours":21,"utc":true},"type":"temporal","axis":null},"y":{"datum":-18.9,"type":"quantitative","axis":null},"text":{"value":"⊘"}}},
  {"mark":{"type":"text","align":"center","baseline":"middle","fontSize":11,"color":"#a0a0a0","font":"DejaVu Sans"},"encoding":{"x":{"datum":{"year":2024,"month":2,"date":2,"hours":14,"utc":true},"type":"temporal","axis":null},"y":{"datum":-18.9,"type":"quantitative","axis":null},"text":{"value":"⊘"}}},
  {"mark":{"type":"text","align":"center","baseline":"middle","fontSize":11,"color":"#a0a0a0","font":"DejaVu Sans"},"encoding":{"x":{"datum":{"year":2024,"month":2,"date":5,"hours":11,"minutes":20,"utc":true},"type":"temporal","axis":null},"y":{"datum":-18.9,"type":"quantitative","axis":null},"text":{"value":"⊘"}}},
  {"mark":{"type":"text","align":"center","baseline":"middle","fontSize":11,"color":"#a0a0a0","font":"DejaVu Sans"},"encoding":{"x":{"datum":{"year":2024,"month":2,"date":8,"hours":4,"utc":true},"type":"temporal","axis":null},"y":{"datum":-18.9,"type":"quantitative","axis":null},"text":{"value":"⊘"}}},
  {"mark":{"type":"point","shape":"M-1 -0.49H0.11V0.5H-0.47V-0.02H-1ZM0.19 -0.29a0.19 0.19 0 1 0 0.38 0a0.19 0.19 0 1 0 -0.38 0ZM0.6 -0.49H1L0.49 0.5H0.05Z","size":900,"filled":true,"opacity":1,"color":"#ebebf0"},"encoding":{"x":{"datum":{"year":2024,"month":1,"date":12,"hours":15,"minutes":40,"utc":true},"type":"temporal","axis":null},"y":{"datum":-87.4,"type":"quantitative","axis":null}}},
  {"mark":{"type":"text","align":"left","baseline":"middle","fontSize":20,"fontWeight":600,"color":"#ebebf0"},"encoding":{"x":{"datum":{"year":2024,"month":1,"date":16,"hours":15,"utc":true},"type":"temporal","axis":null},"y":{"datum":-88.3,"type":"quantitative","axis":null},"text":{"value":"TradingView"}}}
 ]}
]}
]}
